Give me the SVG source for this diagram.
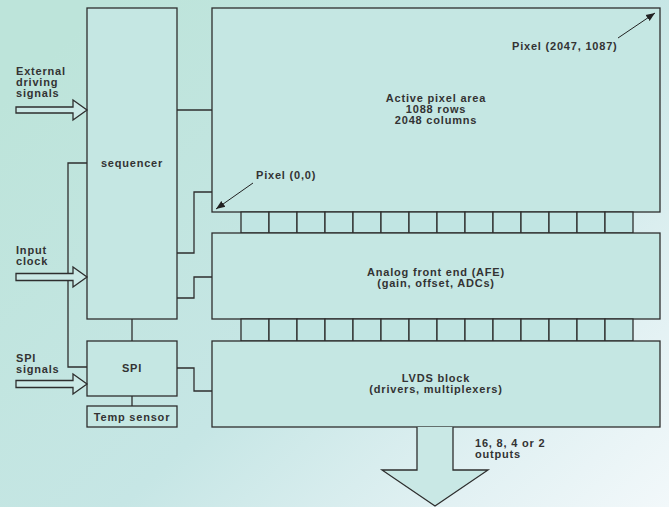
<svg xmlns="http://www.w3.org/2000/svg" width="669" height="507" viewBox="0 0 669 507">
<defs>
<linearGradient id="bg" x1="0" y1="0.2" x2="1" y2="1">
<stop offset="0" stop-color="#bde4da"/>
<stop offset="0.5" stop-color="#c6e6e5"/>
<stop offset="0.8" stop-color="#e2f1f3"/>
<stop offset="1" stop-color="#f2f8fa"/>
</linearGradient>
<marker id="ah" viewBox="0 0 10 10" refX="10" refY="5" markerWidth="9" markerHeight="9" markerUnits="userSpaceOnUse" orient="auto">
<path d="M0,1 L10,5 L0,9 Z" fill="#222"/>
</marker>
<style>
.box{fill:#c5e7e3;stroke:#2e2e2e;stroke-width:1.3}
.cell{fill:#c1e5e3;stroke:#2e2e2e;stroke-width:1.3}
.ln{fill:none;stroke:#2e2e2e;stroke-width:1.3}
.ptr{fill:none;stroke:#222;stroke-width:1}
.ha{fill:#cbe9e6;stroke:#2e2e2e;stroke-width:1.3;stroke-linejoin:miter}
text{font-family:"Liberation Sans",Arial,sans-serif;font-weight:bold;font-size:11px;letter-spacing:0.8px;fill:#333}
.c{text-anchor:middle}
</style>
</defs>
<rect x="0" y="0" width="669" height="507" fill="url(#bg)"/>

<g id="sequencer">
<rect class="box" x="87" y="8" width="90" height="311"/>
<text class="c" x="132" y="167">sequencer</text>
</g>

<g id="spi">
<rect class="box" x="87" y="341" width="90" height="55"/>
<text class="c" x="132" y="372">SPI</text>
</g>

<g id="temp-sensor">
<rect class="box" x="87" y="406" width="90" height="21"/>
<text class="c" x="132" y="421">Temp sensor</text>
</g>

<g id="pixel-area">
<rect class="box" x="212" y="8" width="448" height="204"/>
<text class="c" x="436" y="101.5">Active pixel area</text>
<text class="c" x="436" y="113">1088 rows</text>
<text class="c" x="436" y="124">2048 columns</text>
</g>

<g id="cells-top">
<rect class="cell" x="241" y="212" width="28" height="21"/>
<rect class="cell" x="269" y="212" width="28" height="21"/>
<rect class="cell" x="297" y="212" width="28" height="21"/>
<rect class="cell" x="325" y="212" width="28" height="21"/>
<rect class="cell" x="353" y="212" width="28" height="21"/>
<rect class="cell" x="381" y="212" width="28" height="21"/>
<rect class="cell" x="409" y="212" width="28" height="21"/>
<rect class="cell" x="437" y="212" width="28" height="21"/>
<rect class="cell" x="465" y="212" width="28" height="21"/>
<rect class="cell" x="493" y="212" width="28" height="21"/>
<rect class="cell" x="521" y="212" width="28" height="21"/>
<rect class="cell" x="549" y="212" width="28" height="21"/>
<rect class="cell" x="577" y="212" width="28" height="21"/>
<rect class="cell" x="605" y="212" width="28" height="21"/>
</g>

<g id="afe">
<rect class="box" x="212" y="233" width="448" height="86"/>
<text class="c" x="436" y="275.5">Analog front end (AFE)</text>
<text class="c" x="436" y="286.5">(gain, offset, ADCs)</text>
</g>

<g id="cells-bottom">
<rect class="cell" x="241" y="319" width="28" height="22"/>
<rect class="cell" x="269" y="319" width="28" height="22"/>
<rect class="cell" x="297" y="319" width="28" height="22"/>
<rect class="cell" x="325" y="319" width="28" height="22"/>
<rect class="cell" x="353" y="319" width="28" height="22"/>
<rect class="cell" x="381" y="319" width="28" height="22"/>
<rect class="cell" x="409" y="319" width="28" height="22"/>
<rect class="cell" x="437" y="319" width="28" height="22"/>
<rect class="cell" x="465" y="319" width="28" height="22"/>
<rect class="cell" x="493" y="319" width="28" height="22"/>
<rect class="cell" x="521" y="319" width="28" height="22"/>
<rect class="cell" x="549" y="319" width="28" height="22"/>
<rect class="cell" x="577" y="319" width="28" height="22"/>
<rect class="cell" x="605" y="319" width="28" height="22"/>
</g>

<g id="lvds">
<rect class="box" x="212" y="341" width="448" height="86"/>
<text class="c" x="436" y="381.5">LVDS block</text>
<text class="c" x="436" y="393">(drivers, multiplexers)</text>
</g>

<g id="output-arrow">
<polygon points="417,427 417,470 382,470 435,506 488,470 453,470 453,427" fill="#c9e8e5" stroke="none"/>
<polyline class="ln" points="417,427 417,470 382,470 435,506 488,470 453,470 453,427"/>
</g>

<g id="connectors">
<line class="ln" x1="177" y1="110" x2="212" y2="110"/>
<path class="ln" d="M177,253 H194 V192 H212"/>
<path class="ln" d="M177,298 H194 V277 H212"/>
<path class="ln" d="M177,368 H194 V391 H212"/>
<path class="ln" d="M87,163 H68 V367 H87"/>
<line class="ln" x1="132" y1="319" x2="132" y2="341"/>
<line class="ln" x1="132" y1="396" x2="132" y2="406"/>
<polygon class="ha" points="16,107 73,107 73,100 87,110 73,120 73,113 16,113"/>
<polygon class="ha" points="16,273.5 73,273.5 73,267 87,277 73,287 73,280.5 16,280.5"/>
<polygon class="ha" points="16,380.5 73,380.5 73,374 87,384 73,394 73,387.5 16,387.5"/>
<line class="ptr" x1="253" y1="183" x2="216" y2="209" marker-end="url(#ah)"/>
<line class="ptr" x1="618" y1="38" x2="655" y2="13" marker-end="url(#ah)"/>
</g>

<g id="labels">
<text x="16" y="75">External</text>
<text x="16" y="86">driving</text>
<text x="16" y="97">signals</text>
<text x="16" y="254">Input</text>
<text x="16" y="265">clock</text>
<text x="16" y="362">SPI</text>
<text x="16" y="373">signals</text>
<text x="256" y="179">Pixel (0,0)</text>
<text x="512" y="50">Pixel (2047, 1087)</text>
<text x="475" y="447">16, 8, 4 or 2</text>
<text x="475" y="458">outputs</text>
</g>
</svg>
